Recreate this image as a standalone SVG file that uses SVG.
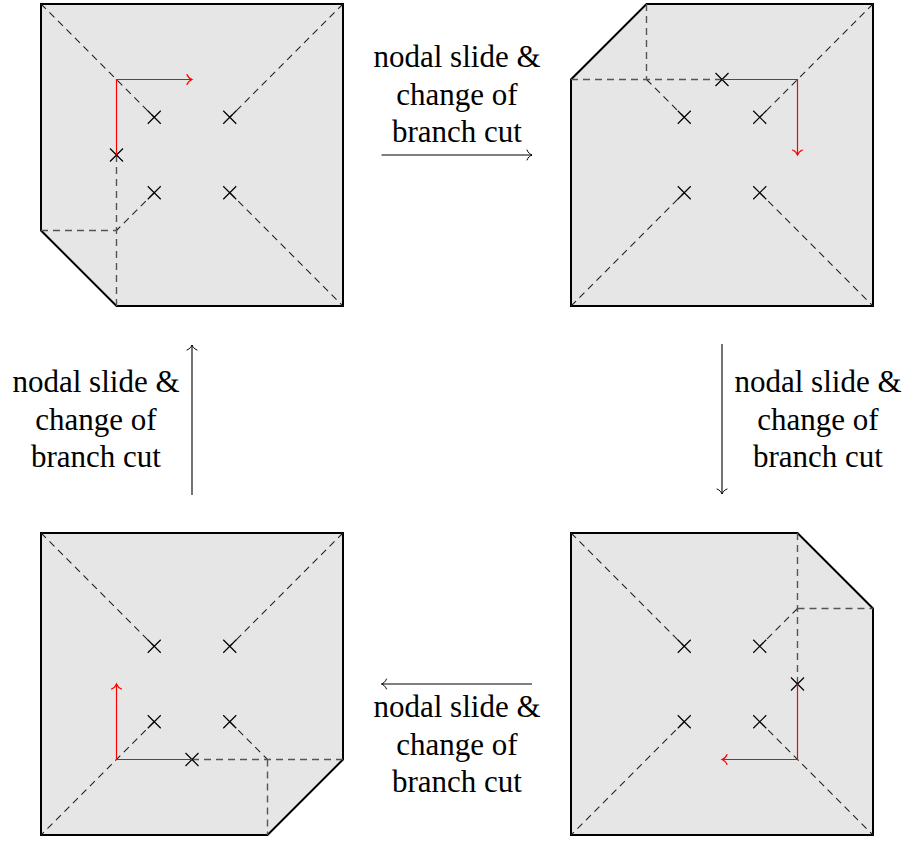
<svg xmlns="http://www.w3.org/2000/svg" width="908" height="841" viewBox="0 0 908 841">
<defs>
<marker id="ah" viewBox="-7 -7 9 14" markerWidth="9" markerHeight="14" refX="0" refY="0" orient="auto" markerUnits="userSpaceOnUse">
<path d="M-5,-5 C-4,-2 -1.5,-0.6 0,0 C-1.5,0.6 -4,2 -5,5" fill="none" stroke="#000" stroke-width="1" stroke-linecap="round"/>
</marker>
<marker id="ahr" viewBox="-7 -7 9 14" markerWidth="9" markerHeight="14" refX="0" refY="0" orient="auto" markerUnits="userSpaceOnUse">
<path d="M-5,-5 C-4,-2 -1.5,-0.6 0,0 C-1.5,0.6 -4,2 -5,5" fill="none" stroke="#f00" stroke-width="1.2" stroke-linecap="round"/>
</marker>
</defs>
<style>
.sheet{fill:#e6e6e6;stroke:#000;stroke-width:2;stroke-linejoin:miter}
.cut{fill:none;stroke:#222;stroke-width:1.1;stroke-dasharray:7 5}
.fold{fill:none;stroke:#555;stroke-width:1.4;stroke-dasharray:7 5}
.x{fill:none;stroke:#000;stroke-width:1.2}
.red{fill:none;stroke:#f00;stroke-width:1.2;marker-end:url(#ahr)}
.conn{fill:none;stroke:#000;stroke-width:1.1;marker-end:url(#ah)}
.lbl{font-family:"Liberation Serif","Times New Roman",serif;font-size:31px;fill:#000;text-anchor:middle}
</style>

<g id="panel-top-left" transform="translate(41,4)">
<polygon class="sheet" points="0,0 302,0 302,302 75.5,302 0,226.5"/>
<path class="cut" d="M0,0 L113.25,113.25 M302,0 L188.75,113.25 M188.75,188.75 L302,302 M113.25,188.75 L75.5,226.5"/>
<path class="fold" d="M0,226.5 L75.5,226.5 M75.5,151 L75.5,302"/>
<path class="x" d="M106.75,106.75 l13,13 M106.75,119.75 l13,-13 M182.25,106.75 l13,13 M182.25,119.75 l13,-13 M106.75,182.25 l13,13 M106.75,195.25 l13,-13 M182.25,182.25 l13,13 M182.25,195.25 l13,-13 M69,144.5 l13,13 M69,157.5 l13,-13"/>
<path class="red" d="M75.5,151 L75.5,75.5 L151,75.5"/>
</g>

<g id="panel-top-right" transform="translate(571,4)">
<polygon class="sheet" points="75.5,0 302,0 302,302 0,302 0,75.5"/>
<path class="cut" d="M75.5,75.5 L113.25,113.25 M302,0 L188.75,113.25 M0,302 L113.25,188.75 M188.75,188.75 L302,302"/>
<path class="fold" d="M75.5,0 L75.5,75.5 M0,75.5 L151,75.5"/>
<path class="x" d="M106.75,106.75 l13,13 M106.75,119.75 l13,-13 M182.25,106.75 l13,13 M182.25,119.75 l13,-13 M106.75,182.25 l13,13 M106.75,195.25 l13,-13 M182.25,182.25 l13,13 M182.25,195.25 l13,-13 M144.5,69 l13,13 M144.5,82 l13,-13"/>
<path class="red" d="M151,75.5 L226.5,75.5 L226.5,151"/>
</g>

<g id="panel-bottom-right" transform="translate(571,533)">
<polygon class="sheet" points="0,0 226.5,0 302,75.5 302,302 0,302"/>
<path class="cut" d="M0,0 L113.25,113.25 M226.5,75.5 L188.75,113.25 M113.25,188.75 L0,302 M188.75,188.75 L302,302"/>
<path class="fold" d="M226.5,0 L226.5,151 M226.5,75.5 L302,75.5"/>
<path class="x" d="M106.75,106.75 l13,13 M106.75,119.75 l13,-13 M182.25,106.75 l13,13 M182.25,119.75 l13,-13 M106.75,182.25 l13,13 M106.75,195.25 l13,-13 M182.25,182.25 l13,13 M182.25,195.25 l13,-13 M220,144.5 l13,13 M220,157.5 l13,-13"/>
<path class="red" d="M226.5,151 L226.5,226.5 L151,226.5"/>
</g>

<g id="panel-bottom-left" transform="translate(41,533)">
<polygon class="sheet" points="0,0 302,0 302,226.5 226.5,302 0,302"/>
<path class="cut" d="M0,0 L113.25,113.25 M302,0 L188.75,113.25 M113.25,188.75 L0,302 M188.75,188.75 L226.5,226.5"/>
<path class="fold" d="M151,226.5 L302,226.5 M226.5,226.5 L226.5,302"/>
<path class="x" d="M106.75,106.75 l13,13 M106.75,119.75 l13,-13 M182.25,106.75 l13,13 M182.25,119.75 l13,-13 M106.75,182.25 l13,13 M106.75,195.25 l13,-13 M182.25,182.25 l13,13 M182.25,195.25 l13,-13 M144.5,220 l13,13 M144.5,233 l13,-13"/>
<path class="red" d="M151,226.5 L75.5,226.5 L75.5,151"/>
</g>

<g id="connectors">
<path class="conn" d="M381.5,155 L532,155"/>
<path class="conn" d="M722,344 L722,494"/>
<path class="conn" d="M532,684 L381.5,684"/>
<path class="conn" d="M192,495 L192,345"/>
</g>

<g id="label-top">
<text class="lbl" x="457" y="67">nodal slide &amp;</text>
<text class="lbl" x="457" y="104.5">change of</text>
<text class="lbl" x="457" y="142">branch cut</text>
</g>
<g id="label-right">
<text class="lbl" x="818" y="392">nodal slide &amp;</text>
<text class="lbl" x="818" y="429.5">change of</text>
<text class="lbl" x="818" y="467">branch cut</text>
</g>
<g id="label-bottom">
<text class="lbl" x="457" y="717">nodal slide &amp;</text>
<text class="lbl" x="457" y="754.5">change of</text>
<text class="lbl" x="457" y="792">branch cut</text>
</g>
<g id="label-left">
<text class="lbl" x="96" y="392">nodal slide &amp;</text>
<text class="lbl" x="96" y="429.5">change of</text>
<text class="lbl" x="96" y="467">branch cut</text>
</g>
</svg>
